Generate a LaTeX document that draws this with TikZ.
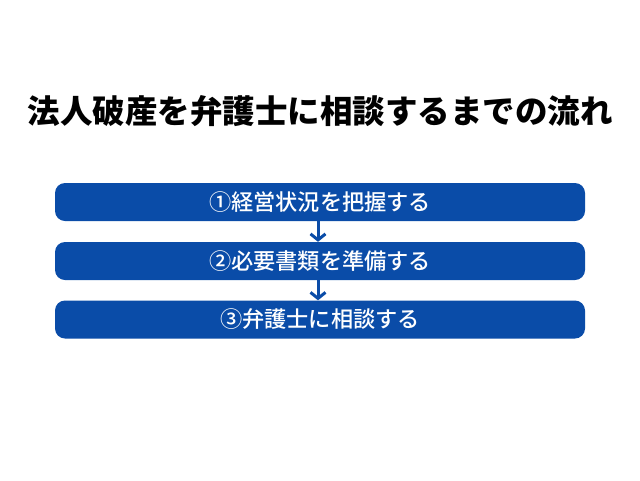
\documentclass[tikz,border=0pt]{standalone}
\usepackage{fontspec}
\setmainfont{Noto Sans CJK JP}[BoldFont={Noto Sans CJK JP Black}]
\newfontfamily\medfont{Noto Sans CJK JP Medium}
\usetikzlibrary{arrows.meta}
\definecolor{boxblue}{HTML}{0A4CA8}
\begin{document}
\begin{tikzpicture}[x=1pt,y=-1pt,
  stepbox/.style={fill=boxblue,rounded corners=10pt,minimum width=530pt,minimum height=38pt,inner sep=0pt,text=white,font=\medfont\fontsize{22.2}{24}\selectfont},
  flow/.style={draw=boxblue,line width=3pt,-{Straight Barb[length=6pt,width=15pt,line width=3pt]}}]
\useasboundingbox (0,0) rectangle (640,480);
\node[font=\fontsize{32.5}{36}\selectfont\bfseries] (title) at (320,111) {法人破産を弁護士に相談するまでの流れ};
\node[stepbox] (s1) at (320,202) {①経営状況を把握する};
\node[stepbox] (s2) at (320,261) {②必要書類を準備する};
\node[stepbox] (s3) at (320,319.5) {③弁護士に相談する};
\draw[flow] ([xshift=-2pt]s1.south) -- ([xshift=-2pt]s2.north);
\draw[flow] ([xshift=-2pt]s2.south) -- ([xshift=-2pt]s3.north);
\end{tikzpicture}
\end{document}
